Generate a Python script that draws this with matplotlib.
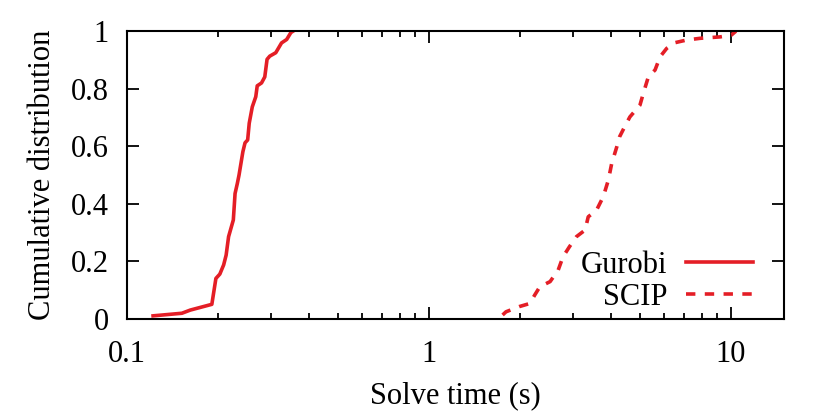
import matplotlib
matplotlib.use("Agg")
import matplotlib.pyplot as plt
from matplotlib.ticker import LogLocator, FixedLocator, NullFormatter

plt.rcParams["font.family"] = ["Liberation Serif", "DejaVu Serif"]
plt.rcParams["font.size"] = 22

# CDF points (solve time in seconds, fraction)
gurobi_t = [0.122, 0.152, 0.162, 0.191, 0.197, 0.203, 0.209, 0.213, 0.217, 0.225,
            0.228, 0.232, 0.235, 0.242, 0.246, 0.251, 0.254, 0.260, 0.267, 0.270,
            0.279, 0.286, 0.291, 0.297, 0.311, 0.325, 0.338, 0.349, 0.355]
gurobi_p = [0.011, 0.020, 0.031, 0.051, 0.141, 0.156, 0.188, 0.222, 0.286, 0.344,
            0.436, 0.471, 0.500, 0.581, 0.612, 0.622, 0.680, 0.737, 0.772, 0.810,
            0.820, 0.841, 0.902, 0.913, 0.925, 0.959, 0.971, 0.995, 1.000]

scip_t = [1.754, 1.80, 1.99, 2.16, 2.24, 2.33, 2.52, 2.68, 2.78, 2.92, 3.08, 3.29,
          3.37, 3.59, 3.78, 3.93, 4.03, 4.19, 4.28, 4.45, 4.63, 5.00, 5.13, 5.33,
          5.61, 5.83, 6.13, 6.54, 7.13, 7.90, 9.22, 10.03, 10.4]
scip_p = [0.014, 0.025, 0.043, 0.054, 0.083, 0.112, 0.130, 0.170, 0.216, 0.251,
          0.286, 0.309, 0.355, 0.378, 0.425, 0.483, 0.540, 0.598, 0.633, 0.668,
          0.702, 0.743, 0.784, 0.841, 0.865, 0.911, 0.940, 0.960, 0.969, 0.975,
          0.980, 0.986, 1.000]

y_ticks = [0, 0.2, 0.4, 0.6, 0.8, 1]
y_labels = ["0", "0.2", "0.4", "0.6", "0.8", "1"]
x_ticks = [0.1, 1, 10]
x_labels = ["0.1", "1", "10"]

red = "#e41e26"

fig = plt.figure(figsize=(8.3, 4.15), dpi=100)
ax = fig.add_axes([0.153, 0.2313, 0.7916, 0.6937])

ax.plot(gurobi_t, gurobi_p, color=red, lw=2.6, label="Gurobi")
ax.plot(scip_t, scip_p, color=red, lw=2.6, dashes=(2.6, 2.6), label="SCIP")

ax.set_xscale("log")
ax.set_xlim(0.1, 15)
ax.set_ylim(0, 1)

ax.xaxis.set_major_locator(FixedLocator(x_ticks))
ax.set_xticklabels(x_labels)
ax.xaxis.set_minor_locator(LogLocator(base=10, subs=range(2, 10)))
ax.xaxis.set_minor_formatter(NullFormatter())
ax.set_yticks(y_ticks)
ax.set_yticklabels(y_labels)

ax.tick_params(which="both", direction="in", top=True, right=True, width=1.3)
ax.tick_params(which="major", length=8.5)
ax.tick_params(axis="x", which="major", pad=15)
ax.tick_params(axis="y", which="major", pad=13)
ax.tick_params(which="minor", length=4.5)
for s in ax.spines.values():
    s.set_linewidth(1.5)

ax.set_xlabel("Solve time (s)", labelpad=9)
ax.set_ylabel("Cumulative distribution", labelpad=10)

ax.legend(loc="lower right", bbox_to_anchor=(0.953, 0.025), frameon=False,
          markerfirst=False, handlelength=2.2, handletextpad=0.6,
          labelspacing=0.1, borderpad=0, borderaxespad=0)

fig.savefig("out.png", dpi=100)
